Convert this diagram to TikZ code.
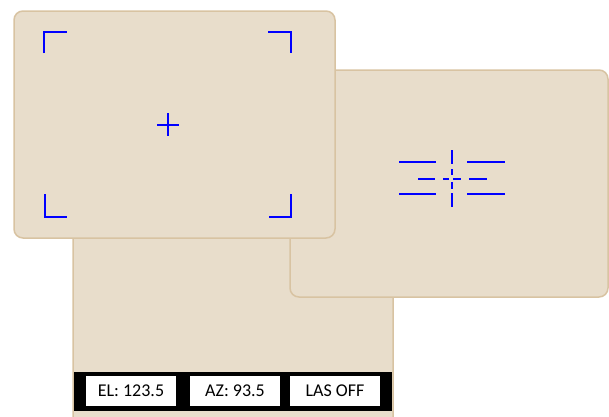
\documentclass[tikz,border=0pt]{standalone}
\usepackage{fontspec}
\setmainfont{Carlito}
\definecolor{panelfill}{HTML}{E8DDCB}
\definecolor{panelline}{HTML}{D8C3A2}
\begin{document}
\begin{tikzpicture}[x=1pt,y=-1pt,
  panel/.style={fill=panelfill,draw=panelline,line width=1.5pt,rounded corners=9pt},
  ret/.style={draw=blue,line width=2pt},
  fine/.style={draw=blue,line width=1.6pt},
  readout/.style={fill=white,inner sep=0pt,minimum width=90pt,minimum height=30pt,font=\fontsize{18}{21}\selectfont}]
\useasboundingbox (0,0) rectangle (609,416);
% back panel
\path[panel] (73,150) rectangle (393,428);
\fill[black] (73.8,372) rectangle (392.2,411);
\node[readout] (el) at (131,391) {EL: 123.5};
\node[readout] (az) at (235,391) {AZ: 93.5};
\node[readout] (las) at (335,391) {LAS OFF};
% right panel
\path[panel] (290,70) rectangle (608,297);
% top-left panel
\path[panel] (14,11) rectangle (335,238);
% corner brackets
\draw[ret] (44,53) -- (44,32) -- (67,32);
\draw[ret] (268,32) -- (291,32) -- (291,53);
\draw[ret] (45,194) -- (45,217) -- (67,217);
\draw[ret] (291,194) -- (291,217) -- (269,217);
% centre cross
\draw[fine] (157,125) -- (179,125);
\draw[fine] (168,113) -- (168,136);
% right reticle
\draw[fine] (399,162) -- (436,162);
\draw[fine] (467,162) -- (505,162);
\draw[fine] (399,194) -- (436,194);
\draw[fine] (467,194) -- (505,194);
\draw[fine] (418,179) -- (435,179);
\draw[fine] (469,179) -- (487,179);
\draw[fine] (443,179) -- (449,179);
\draw[fine] (453,179) -- (461,179);
\draw[fine] (452,150) -- (452,164);
\draw[fine] (452,169) -- (452,175);
\draw[fine] (452,182) -- (452,189);
\draw[fine] (452,193) -- (452,207);
\end{tikzpicture}
\end{document}
